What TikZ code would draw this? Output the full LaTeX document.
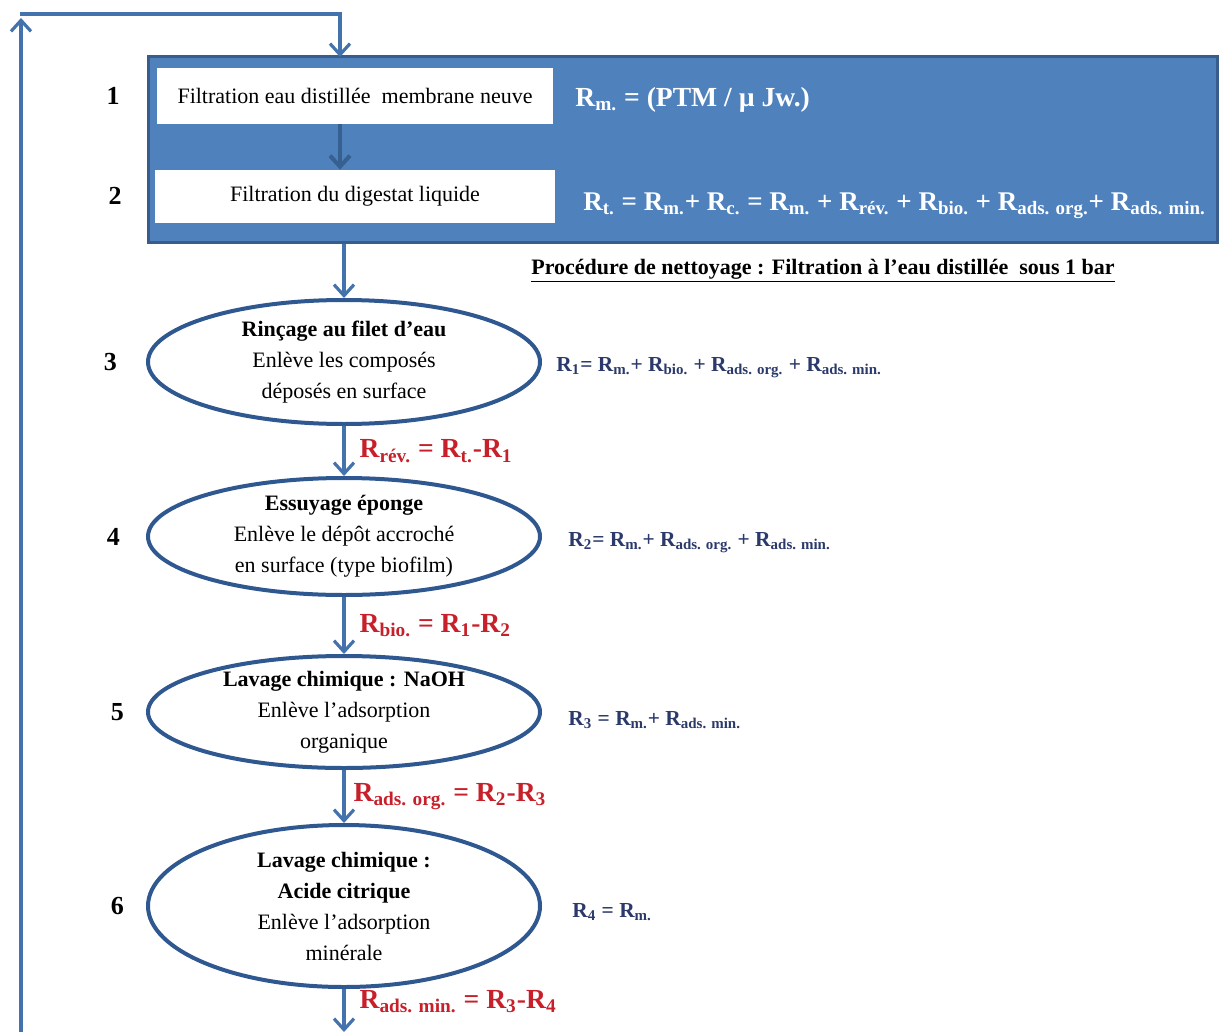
\documentclass[tikz,border=0pt]{standalone}
\usepackage{fontspec}
\setmainfont{Liberation Serif}
\usetikzlibrary{positioning,arrows.meta,shapes.geometric}
\definecolor{boxc}{HTML}{4F81BD}
\definecolor{edgec}{HTML}{385D8A}
\definecolor{arrc}{HTML}{4472AC}
\definecolor{darkc}{HTML}{35608F}
\definecolor{ellc}{HTML}{2F5890}
\definecolor{redc}{HTML}{C8202A}
\definecolor{navyc}{HTML}{2B3A6B}
\newcommand{\Rs}[1]{R\textsubscript{#1}}
\tikzset{
  panel/.style ={draw=edgec,line width=1.5pt,fill=boxc,inner sep=0pt,
                 minimum width=534.5pt,minimum height=92.5pt},
  wbox/.style  ={fill=white,inner sep=0pt,font=\fontsize{11}{13}\selectfont},
  stage/.style ={ellipse,draw=ellc,line width=2pt,fill=white,align=center,
                 inner xsep=0pt,inner ysep=-1pt,minimum width=196pt,
                 font=\fontsize{11}{15.5}\selectfont},
  num/.style   ={font=\fontsize{13}{15}\selectfont\bfseries},
  fw/.style    ={font=\fontsize{13.8}{16}\selectfont\bfseries,text=white,anchor=west,inner sep=0pt},
  fn/.style    ={font=\fontsize{10.7}{13}\selectfont\bfseries,text=navyc,inner sep=0pt},
  fr/.style    ={font=\fontsize{13.8}{16}\selectfont\bfseries,text=redc,inner sep=0pt,right=7pt},
  ttl/.style   ={font=\fontsize{11}{13}\selectfont\bfseries},
  ar/.style    ={-{Straight Barb[length=5.5pt,width=10pt]},draw=arrc,line width=1.6pt},
  arD/.style   ={ar,draw=darkc,line width=2pt},
}
\begin{document}
\begin{tikzpicture}[x=0.5pt,y=-0.5pt]
\useasboundingbox (0,0) rectangle (1219,1032);

% ---------- filtration block -------------------------------------------
\node[panel] (panel) at (682.5,149.5) {};
\node[wbox,minimum width=198pt,minimum height=28pt] (w1) at (355,96)
  {Filtration eau distillée\ \ membrane neuve};
\node[wbox,minimum width=200pt,minimum height=26.5pt] (w2) at (355,196.5)
  {Filtration du digestat liquide};
\node[fw] (f1) at (575,100) {\Rs{m.} = (PTM / µ Jw.)};
\node[fw,font=\fontsize{13.5}{16}\selectfont\bfseries] (f2) at (583,206)
  {\Rs{t.} = \Rs{m.}+ \Rs{c.} = \Rs{m.} + \Rs{rév.} + \Rs{bio.} + \Rs{ads. org.}+ \Rs{ads. min.}};
\node[num] (n1) at (113,96) {1};
\node[num] (n2) at (115,196) {2};

\node[ttl] (proc) at (823,271)
  {\underline{Procédure de nettoyage : Filtration à l’eau distillée\ \ sous 1 bar}};

% ---------- cleaning steps ---------------------------------------------
\node[stage,minimum height=62pt] (s3) at (344,362)
  {\textbf{Rinçage au filet d’eau}\\Enlève les composés\\déposés en surface};
\node[stage,minimum height=58.5pt,below=25pt of s3] (s4)
  {\textbf{Essuyage éponge}\\Enlève le dépôt accroché\\en surface (type biofilm)};
\node[stage,minimum height=56pt,below=28.5pt of s4] (s5)
  {\textbf{Lavage chimique : NaOH}\\Enlève l’adsorption\\organique};
\node[stage,minimum height=81pt,below=26.5pt of s5] (s6)
  {\textbf{Lavage chimique :}\\\textbf{Acide citrique}\\Enlève l’adsorption\\minérale};

\node[num,left=11pt of s3.west] (n3) {3};
\node[num,left=9.5pt of s4.west] (n4) {4};
\node[num,left=7.5pt of s5.west] (n5) {5};
\node[num,left=7.5pt of s6.west] (n6) {6};

\node[fn,right=7pt of s3.east,anchor=west,yshift=-3pt] (r1)
  {\Rs{1}= \Rs{m.}+ \Rs{bio.} + \Rs{ads. org.} + \Rs{ads. min.}};
\node[fn,right=13pt of s4.east,anchor=west,yshift=-3pt] (r2)
  {\Rs{2}= \Rs{m.}+ \Rs{ads. org.} + \Rs{ads. min.}};
\node[fn,right=13pt of s5.east,anchor=west,yshift=-4pt] (r3)
  {\Rs{3} = \Rs{m.}+ \Rs{ads. min.}};
\node[fn,right=15pt of s6.east,anchor=west,yshift=-3pt] (r4)
  {\Rs{4} = \Rs{m.}};

% ---------- connectors -------------------------------------------------
\coordinate (bl)  at (21,1032);
\coordinate (tl)  at (21,18);
\coordinate (tc)  at (20,14);
\coordinate (top) at (340,57);
\coordinate (out) at (s6.south |- bl);

\draw[ar] (bl) -- (tl);
\draw[ar] (tc) -| (top);
\draw[arD] (w1.south -| top) -- (w2.north -| top);
\draw[ar] (panel.south -| s3) -- (s3.north);
\draw[ar] (s3) -- node[fr,pos=.5]{\Rs{rév.} = \Rs{t.}-\Rs{1}} (s4);
\draw[ar] (s4) -- node[fr,pos=.5]{\Rs{bio.} = \Rs{1}-\Rs{2}} (s5);
\draw[ar] (s5) -- node[fr,pos=.5,xshift=-3pt]{\Rs{ads. org.} = \Rs{2}-\Rs{3}} (s6);
\draw[ar] (s6) -- node[fr,pos=.3]{\Rs{ads. min.} = \Rs{3}-\Rs{4}} (out);
\end{tikzpicture}
\end{document}
